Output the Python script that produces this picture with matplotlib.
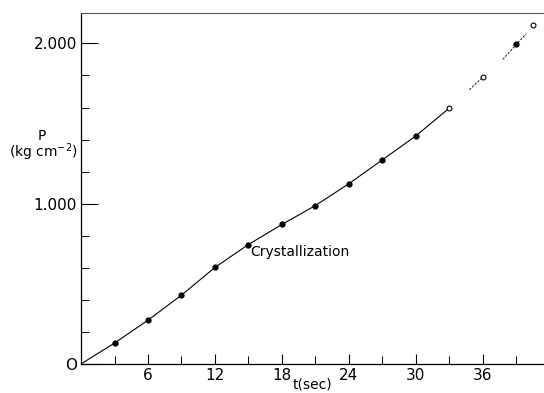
import matplotlib
matplotlib.use("Agg")
import matplotlib.pyplot as plt
from matplotlib.ticker import MultipleLocator

# data
t_filled = [3, 6, 9, 12, 15, 18, 21, 24, 27, 30, 39]
p_filled = [130, 273, 429, 602, 745, 870, 988, 1124, 1273, 1422, 1994]
t_open = [33, 36, 40.5]
p_open = [1596, 1789, 2118]
t_curve = [0, 3, 6, 9, 12, 15, 18, 21, 24, 27, 30, 33]
p_curve = [0, 130, 273, 429, 602, 745, 870, 988, 1124, 1273, 1422, 1596]
# short broken pieces near the top
t_seg1 = [34.8, 36]
p_seg1 = [1710, 1789]
t_seg2 = [37.8, 39.9]
p_seg2 = [1900, 2060]

plt.rcParams['font.family'] = ['DejaVu Sans']

fig = plt.figure(figsize=(5.44, 3.93), dpi=100)
ax = fig.add_axes([0.149, 0.074, 0.851, 0.893])

ax.plot(t_curve, p_curve, color='black', lw=0.8)
ax.plot(t_seg1, p_seg1, color='black', lw=0.6, ls=(0, (3, 1.5)))
ax.plot(t_seg2, p_seg2, color='black', lw=0.6, ls=(0, (3, 1.5)))
ax.plot(t_filled, p_filled, 'o', color='black', ms=3.5)
ax.plot(t_open, p_open, 'o', mfc='white', mec='black', ms=3.5, mew=0.8)

ax.text(15.2, 700, 'Crystallization', fontsize=10, va='center', ha='left')

ax.set_xlim(0, 41.5)
ax.set_ylim(0, 2190)

ax.set_xticks([6, 12, 18, 24, 30, 36])
ax.xaxis.set_minor_locator(MultipleLocator(3))
ax.set_yticks([0, 1000, 2000])
ax.set_yticklabels(['O', '1.000', '2.000'])
ax.yaxis.set_minor_locator(MultipleLocator(200))

ax.tick_params(axis='both', which='major', direction='in', length=7, width=0.8,
               labelsize=11, pad=3)
ax.tick_params(axis='both', which='minor', direction='in', length=6, width=0.7)
ax.tick_params(axis='y', which='major', length=12)

ax.spines['right'].set_visible(False)
ax.spines['top'].set_color('#555555')
for s in ['left', 'bottom']:
    ax.spines[s].set_linewidth(0.9)

fig.text(0.076, 0.655, 'P', fontsize=10, ha='center', va='center')
fig.text(0.079, 0.612, '(kg cm$^{-2}$)', fontsize=10, ha='center', va='center')
fig.text(0.575, 0.003, 't(sec)', fontsize=10, ha='center', va='bottom')

fig.savefig('out.png', dpi=100)
